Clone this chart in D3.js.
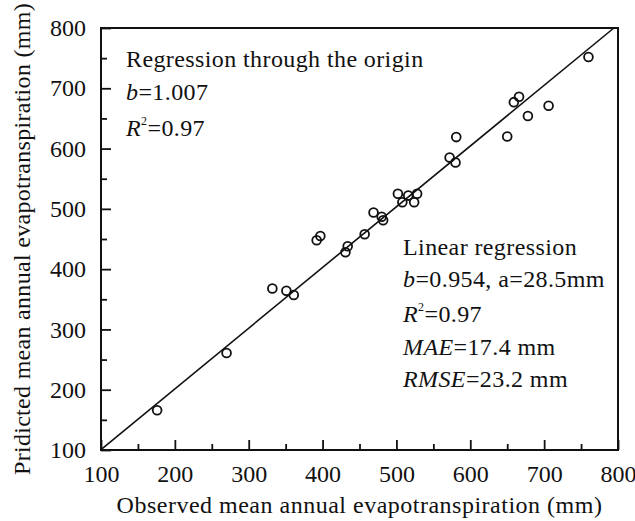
<!DOCTYPE html>
<html>
<head>
<meta charset="utf-8">
<script src="https://cdn.jsdelivr.net/npm/d3@7"></script>
<style>
  body { margin: 0; background: #fff; }
  svg text { font-family: "Liberation Serif", "Times New Roman", serif; fill: #111; }
</style>
</head>
<body>
<div id="myChart"></div>
<script>
// observed vs predicted mean annual ET (mm)
const observed = [176, 270, 332, 351, 361, 392, 397, 431, 434, 457, 469, 480, 482,
  502, 508, 516, 524, 528, 572, 580, 581, 650, 659, 666, 678, 706, 760];
const predicted = [166, 261, 368, 364, 357, 448, 455, 428, 438, 458, 494, 487, 481,
  525, 511, 522, 511, 525, 585, 577, 619, 620, 677, 686, 654, 671, 752];
const majorTicks = [100, 200, 300, 400, 500, 600, 700, 800];
const minorTicks = [150, 250, 350, 450, 550, 650, 750];
const slope = 1.007; // regression through the origin

const margin = { top: 28, right: 17, bottom: 71, left: 101 },
  width = 635 - margin.left - margin.right,
  height = 521 - margin.top - margin.bottom;

const svg = d3
  .select("#myChart")
  .append("svg")
  .attr("width", 635)
  .attr("height", 521)
  .append("g")
  .attr("transform", "translate(" + margin.left + "," + margin.top + ")");

const x = d3.scaleLinear().domain([100, 800]).range([0, width]);
const y = d3.scaleLinear().domain([100, 800]).range([height, 0]);

// axes - ticks pointing inside
svg
  .append("g")
  .attr("transform", "translate(0," + height + ")")
  .call(d3.axisBottom(x).tickValues(majorTicks).tickSize(-10).tickPadding(15));
svg
  .append("g")
  .attr("transform", "translate(0," + height + ")")
  .call(d3.axisBottom(x).tickValues(minorTicks).tickSize(-6).tickFormat(""));
svg
  .append("g")
  .call(d3.axisLeft(y).tickValues(majorTicks).tickSize(-10).tickPadding(15));
svg
  .append("g")
  .call(d3.axisLeft(y).tickValues(minorTicks).tickSize(-6).tickFormat(""));

svg.selectAll(".domain").remove();
svg.selectAll(".tick line").attr("stroke", "#111").attr("stroke-width", 1.8);
svg.selectAll(".tick text").style("font-size", "24px").attr("fill", "#111");

// frame
svg
  .append("rect")
  .attr("x", 0)
  .attr("y", 0)
  .attr("width", width)
  .attr("height", height)
  .attr("fill", "none")
  .attr("stroke", "#111")
  .attr("stroke-width", 2);

// regression line y = b*x, clipped at the top
const xEnd = Math.min(800, 800 / slope);
svg
  .append("line")
  .attr("x1", x(100))
  .attr("y1", y(100 * slope))
  .attr("x2", x(xEnd))
  .attr("y2", y(xEnd * slope))
  .attr("stroke", "#111")
  .attr("stroke-width", 1.6);

// points
svg
  .selectAll(".pt")
  .data(observed)
  .enter()
  .append("circle")
  .attr("class", "pt")
  .attr("cx", (d) => x(d))
  .attr("cy", (d, i) => y(predicted[i]))
  .attr("r", 4.4)
  .attr("fill", "none")
  .attr("stroke", "#111")
  .attr("stroke-width", 1.8);

// annotation helper: parts = [text, italic, superscript, back-down]
function addLine(px, py, parts) {
  const t = svg
    .append("text")
    .attr("x", px)
    .attr("y", py)
    .style("font-size", "24px")
    .style("letter-spacing", "0.4px");
  parts.forEach((p) => {
    const ts = t.append("tspan").text(p[0]);
    if (p[1]) ts.style("font-style", "italic");
    if (p[2]) ts.style("font-size", "12px").attr("dy", -11);
    if (p[3]) ts.attr("dy", 11);
  });
}

const ax = 126 - margin.left;
addLine(ax, 67 - margin.top, [["Regression through the origin"]]);
addLine(ax, 100 - margin.top, [["b", true], ["=1.007"]]);
addLine(ax, 136 - margin.top, [["R", true], ["2", false, true], ["=0.97", false, false, true]]);

const bx = 403 - margin.left;
addLine(bx, 255 - margin.top, [["Linear regression"]]);
addLine(bx, 287 - margin.top, [["b", true], ["=0.954, a=28.5mm"]]);
addLine(bx, 322 - margin.top, [["R", true], ["2", false, true], ["=0.97", false, false, true]]);
addLine(bx, 355 - margin.top, [["MAE", true], ["=17.4 mm"]]);
addLine(bx, 387 - margin.top, [["RMSE", true], ["=23.2 mm"]]);

// axis titles
svg
  .append("text")
  .attr("x", width / 2)
  .attr("y", 513 - margin.top)
  .style("text-anchor", "middle")
  .style("font-size", "24px")
  .style("letter-spacing", "0.5px")
  .text("Observed mean annual evapotranspiration (mm)");

svg
  .append("text")
  .attr("transform", "rotate(-90)")
  .attr("x", -height / 2)
  .attr("y", 30 - margin.left)
  .style("text-anchor", "middle")
  .style("font-size", "24px")
  .style("letter-spacing", "0.3px")
  .text("Pridicted mean annual evapotranspiration (mm)");
</script>
</body>
</html>
